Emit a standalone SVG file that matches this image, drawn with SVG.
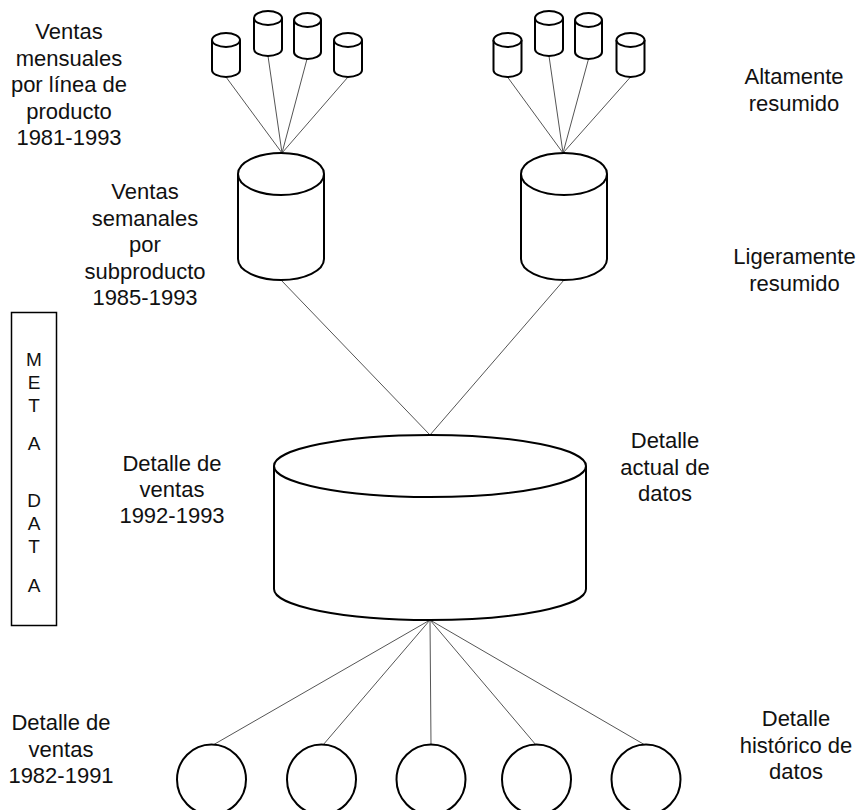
<svg xmlns="http://www.w3.org/2000/svg" width="859" height="810" viewBox="0 0 859 810">
  <style>
    .shape { fill: #fff; stroke: #000; stroke-width: 2; }
    .link { stroke: #555; stroke-width: 1; fill: none; }
    .lbl { font-family: "Liberation Sans", Arial, sans-serif; font-size: 22px; fill: #111; text-anchor: middle; }
    .meta { font-family: "Liberation Sans", Arial, sans-serif; font-size: 19px; fill: #111; text-anchor: middle; }
  </style>

  <!-- connectors -->
  <g id="connectors">
    <!-- monthly stores (left) to weekly store -->
    <line class="link" x1="226" y1="77" x2="282" y2="153"/>
    <line class="link" x1="268" y1="56" x2="282" y2="153"/>
    <line class="link" x1="307" y1="59" x2="282" y2="153"/>
    <line class="link" x1="348" y1="77" x2="282" y2="153"/>
    <!-- monthly stores (right) to weekly store -->
    <line class="link" x1="507.5" y1="77" x2="563" y2="153"/>
    <line class="link" x1="549" y1="56" x2="563" y2="153"/>
    <line class="link" x1="588.5" y1="59" x2="563" y2="153"/>
    <line class="link" x1="630.5" y1="77" x2="563" y2="153"/>
    <!-- weekly stores to current detail -->
    <line class="link" x1="281" y1="280" x2="430" y2="435"/>
    <line class="link" x1="564" y1="280" x2="430" y2="435"/>
    <!-- current detail to historical stores -->
    <line class="link" x1="430" y1="620" x2="213" y2="745"/>
    <line class="link" x1="430" y1="620" x2="323" y2="745"/>
    <line class="link" x1="430" y1="620" x2="431" y2="745"/>
    <line class="link" x1="430" y1="620" x2="536" y2="745"/>
    <line class="link" x1="430" y1="620" x2="645" y2="745"/>
  </g>

  <!-- highly summarized stores -->
  <g id="monthly-left-1">
    <path class="shape" d="M212,40 L212,70 A14,7 0 0 0 240,70 L240,40"/>
    <ellipse class="shape" cx="226" cy="40" rx="14" ry="7"/>
  </g>
  <g id="monthly-left-2">
    <path class="shape" d="M254,18 L254,49 A14,7 0 0 0 282,49 L282,18"/>
    <ellipse class="shape" cx="268" cy="18" rx="14" ry="7"/>
  </g>
  <g id="monthly-left-3">
    <path class="shape" d="M294,20 L294,52 A13.5,7 0 0 0 321,52 L321,20"/>
    <ellipse class="shape" cx="307.5" cy="20" rx="13.5" ry="7"/>
  </g>
  <g id="monthly-left-4">
    <path class="shape" d="M334,40 L334,70 A14,7 0 0 0 362,70 L362,40"/>
    <ellipse class="shape" cx="348" cy="40" rx="14" ry="7"/>
  </g>
  <g id="monthly-right-1">
    <path class="shape" d="M493.5,40 L493.5,70 A14,7 0 0 0 521.5,70 L521.5,40"/>
    <ellipse class="shape" cx="507.5" cy="40" rx="14" ry="7"/>
  </g>
  <g id="monthly-right-2">
    <path class="shape" d="M535,18 L535,49 A14,7 0 0 0 563,49 L563,18"/>
    <ellipse class="shape" cx="549" cy="18" rx="14" ry="7"/>
  </g>
  <g id="monthly-right-3">
    <path class="shape" d="M575,20 L575,52 A13.5,7 0 0 0 602,52 L602,20"/>
    <ellipse class="shape" cx="588.5" cy="20" rx="13.5" ry="7"/>
  </g>
  <g id="monthly-right-4">
    <path class="shape" d="M616.5,40 L616.5,70 A14,7 0 0 0 644.5,70 L644.5,40"/>
    <ellipse class="shape" cx="630.5" cy="40" rx="14" ry="7"/>
  </g>

  <!-- lightly summarized stores -->
  <g id="weekly-left">
    <path class="shape" d="M238,174 L238,259 A43,21 0 0 0 324,259 L324,174"/>
    <ellipse class="shape" cx="281" cy="174" rx="43" ry="21"/>
  </g>
  <g id="weekly-right">
    <path class="shape" d="M521,174 L521,259 A43,21 0 0 0 607,259 L607,174"/>
    <ellipse class="shape" cx="564" cy="174" rx="43" ry="21"/>
  </g>

  <!-- current detail store -->
  <g id="current-detail">
    <path class="shape" d="M274,466 L274,589 A156,31 0 0 0 586,589 L586,466"/>
    <ellipse class="shape" cx="430" cy="466" rx="156" ry="31"/>
  </g>

  <!-- historical detail stores -->
  <g id="history-1"><ellipse class="shape" cx="211.5" cy="779.5" rx="34.5" ry="35"/></g>
  <g id="history-2"><ellipse class="shape" cx="321.5" cy="779.5" rx="34.5" ry="35"/></g>
  <g id="history-3"><ellipse class="shape" cx="431" cy="779.5" rx="34.5" ry="35"/></g>
  <g id="history-4"><ellipse class="shape" cx="536.5" cy="779.5" rx="34.5" ry="35"/></g>
  <g id="history-5"><ellipse class="shape" cx="646" cy="779.5" rx="34.5" ry="35"/></g>

  <!-- metadata column -->
  <g id="metadata">
    <rect x="11.5" y="312.5" width="45" height="313" fill="none" stroke="#000" stroke-width="1.5"/>
    <text class="meta" x="34" y="366">M</text>
    <text class="meta" x="34" y="389">E</text>
    <text class="meta" x="34" y="412">T</text>
    <text class="meta" x="34" y="450">A</text>
    <text class="meta" x="34" y="507">D</text>
    <text class="meta" x="34" y="530">A</text>
    <text class="meta" x="34" y="553">T</text>
    <text class="meta" x="34" y="592">A</text>
  </g>

  <!-- labels -->
  <g id="label-monthly">
    <text class="lbl" x="69" y="39">Ventas</text>
    <text class="lbl" x="69" y="65.5">mensuales</text>
    <text class="lbl" x="69" y="92">por línea de</text>
    <text class="lbl" x="69" y="118.5">producto</text>
    <text class="lbl" x="69" y="145">1981-1993</text>
  </g>
  <g id="label-weekly">
    <text class="lbl" x="145" y="199">Ventas</text>
    <text class="lbl" x="145" y="225.5">semanales</text>
    <text class="lbl" x="145" y="252">por</text>
    <text class="lbl" x="145" y="278.5">subproducto</text>
    <text class="lbl" x="145" y="305">1985-1993</text>
  </g>
  <g id="label-high">
    <text class="lbl" x="794" y="84">Altamente</text>
    <text class="lbl" x="794" y="111">resumido</text>
  </g>
  <g id="label-light">
    <text class="lbl" x="794.5" y="264">Ligeramente</text>
    <text class="lbl" x="794.5" y="291">resumido</text>
  </g>
  <g id="label-detail">
    <text class="lbl" x="172" y="471">Detalle de</text>
    <text class="lbl" x="172" y="497">ventas</text>
    <text class="lbl" x="172" y="523">1992-1993</text>
  </g>
  <g id="label-current">
    <text class="lbl" x="665" y="448">Detalle</text>
    <text class="lbl" x="665" y="474.5">actual de</text>
    <text class="lbl" x="665" y="501">datos</text>
  </g>
  <g id="label-history-sales">
    <text class="lbl" x="61" y="730">Detalle de</text>
    <text class="lbl" x="61" y="756.5">ventas</text>
    <text class="lbl" x="61" y="783">1982-1991</text>
  </g>
  <g id="label-history">
    <text class="lbl" x="796" y="726">Detalle</text>
    <text class="lbl" x="796" y="752.5">histórico de</text>
    <text class="lbl" x="796" y="779">datos</text>
  </g>
</svg>
